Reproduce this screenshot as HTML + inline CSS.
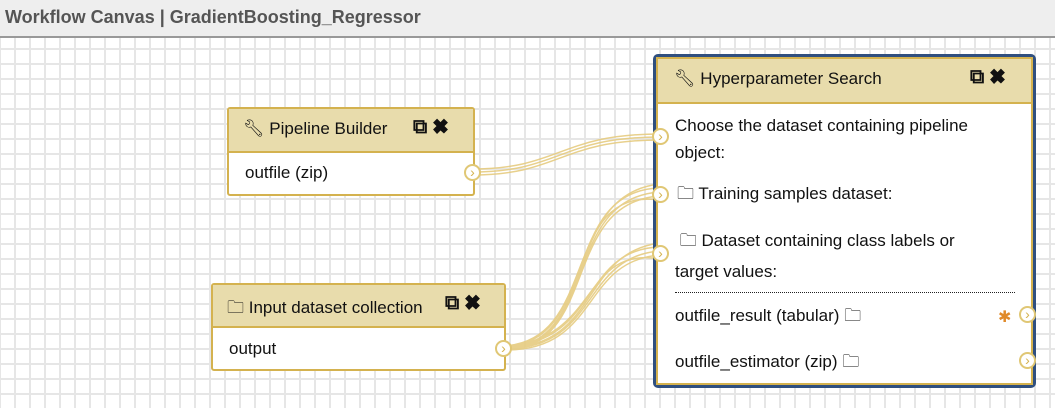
<!DOCTYPE html>
<html><head><style>
body{margin:0;width:1055px;height:408px;overflow:hidden;font-family:"Liberation Sans",sans-serif;position:relative;background:#fff}
.top{position:absolute;left:0;top:0;width:1055px;height:36px;background:#eee;border-bottom:2px solid #999}
.top span{position:absolute;left:5px;top:7px;font-weight:bold;font-size:18px;color:#555}
.grid{position:absolute;left:0;top:38px;width:1055px;height:370px;background-color:#fff;
background-image:linear-gradient(#e6e6e6 2px,transparent 2px),linear-gradient(90deg,#e6e6e6 2px,transparent 2px);
background-size:15px 15px;background-position:0 10px,14px 0}
.node{position:absolute;background:#fff;border:2px solid #d4b24f;border-radius:3px;box-sizing:border-box;font-size:17px;color:#111}
.hd{background:#e8dcac;border-bottom:2px solid #d4b24f;position:relative}
.t{position:absolute;top:10px}
.ic{position:absolute;top:7px;font-size:20px;font-weight:bold}
.term{position:absolute;width:17px;height:17px;border:2px solid #e0c775;border-radius:50%;background:#fff;box-sizing:border-box;font-size:14px;line-height:12px;text-align:center;color:#d4b24f}
</style></head><body>
<div class="top"><span>Workflow Canvas | GradientBoosting_Regressor</span></div>
<div class="grid"></div>
<svg style="position:absolute;left:0;top:0" width="1055" height="408">
<g fill="none" stroke="#e6cc80" stroke-width="1.5" opacity="0.9">
<path d="M472 172 C560 172 560 137 660 137"/><path d="M472 175 C560 175 560 140 660 140"/><path d="M472 169 C560 169 560 134 660 134"/>
<path d="M503 348 C600 348 560 194 660 184"/><path d="M503 347 C600 344 560 190 660 188"/><path d="M503 349 C600 348 560 198 660 192"/><path d="M503 350 C600 350 560 202 660 196"/><path d="M503 346 C600 342 560 186 660 200"/>
<path d="M503 348 C600 348 580 253 660 243"/><path d="M503 347 C600 344 580 249 660 247"/><path d="M503 349 C600 349 580 257 660 251"/><path d="M503 350 C600 352 580 261 660 255"/><path d="M503 346 C600 342 580 245 660 259"/>
</g></svg>
<div class="node" style="left:227px;top:107px;width:248px;height:89px">
<div class="hd" style="height:42px"><span class="t" style="left:14px">🔧︎ Pipeline Builder</span><span class="ic" style="left:184px">⧉ ✖</span></div>
<div style="position:absolute;left:16px;top:54px">outfile (zip)</div>
<div class="term" style="left:235px;top:55px">›</div>
</div>
<div class="node" style="left:211px;top:283px;width:295px;height:88px">
<div class="hd" style="height:41px"><span class="t" style="left:14px">🗀 Input dataset collection</span><span class="ic" style="left:232px">⧉ ✖</span></div>
<div style="position:absolute;left:16px;top:54px">output</div>
<div class="term" style="left:282px;top:55px">›</div>
</div>
<div style="position:absolute;left:653px;top:54px;width:383px;height:334px;border:4px solid #2f4f7f;border-radius:5px;box-sizing:border-box"></div>
<div class="node" style="left:656px;top:57px;width:377px;height:328px;border-radius:0">
<div class="hd" style="height:43px"><span class="t" style="left:16px">🔧︎ Hyperparameter Search</span><span class="ic" style="left:312px">⧉ ✖</span></div>
<div style="position:absolute;left:17px;top:53px;line-height:27px;width:300px">Choose the dataset containing pipeline object:</div>
<div style="position:absolute;left:19px;top:122px">🗀 Training samples dataset:</div>
<div style="position:absolute;left:17px;top:166px;line-height:31px;width:310px">&nbsp;🗀 Dataset containing class labels or target values:</div>
<div style="position:absolute;left:17px;top:233px;width:340px;border-top:1px dotted #222"></div>
<div style="position:absolute;left:17px;top:244px">outfile_result (tabular) 🗀</div>
<div style="position:absolute;left:17px;top:290px">outfile_estimator (zip) 🗀</div>
<div style="position:absolute;left:340px;top:248px;color:#e08a2a;font-size:16px">✱</div>
<div class="term" style="left:361px;top:247px">›</div>
<div class="term" style="left:361px;top:293px">›</div>
<div class="term" style="left:-6px;top:69px">›</div>
<div class="term" style="left:-6px;top:127px">›</div>
<div class="term" style="left:-6px;top:186px">›</div>
</div>
</body></html>
